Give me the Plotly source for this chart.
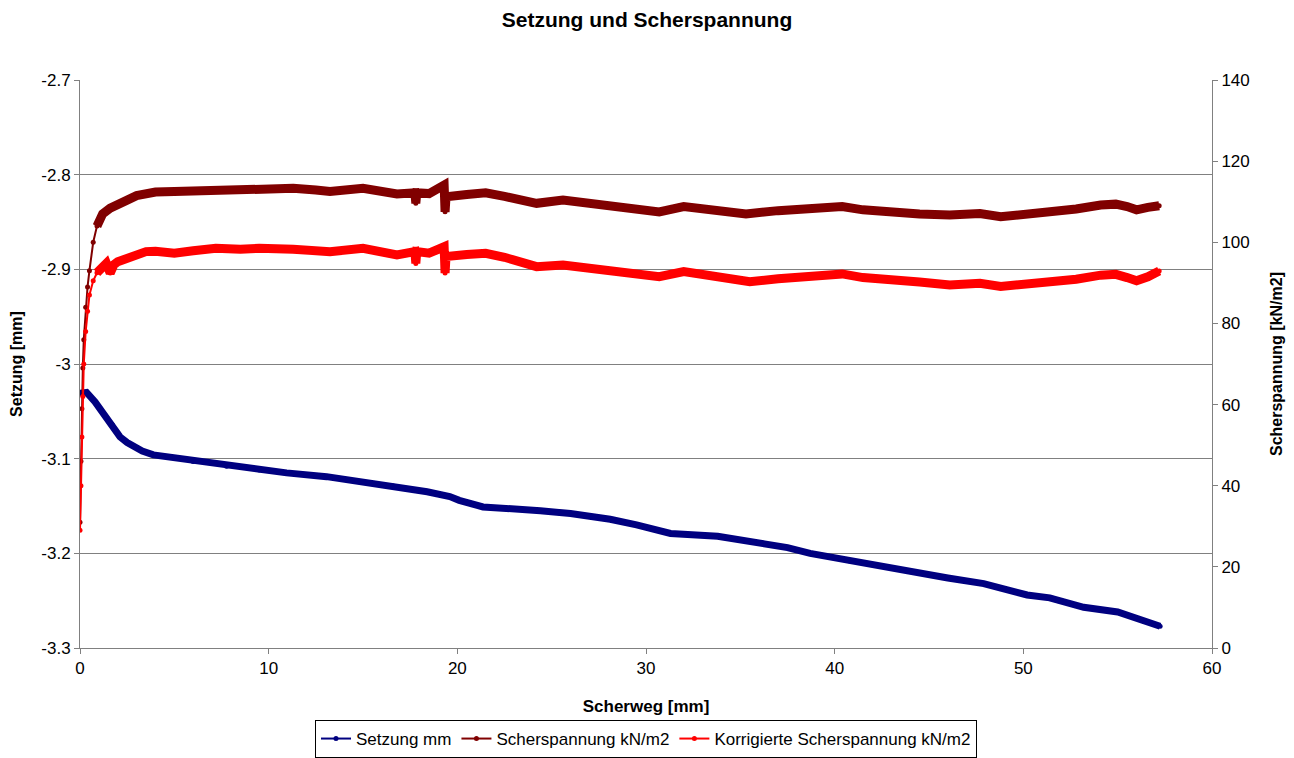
import plotly.graph_objects as go

# Shear test record: settlement (left axis) and shear stress (right axis) vs. shear path
weg_setzung = [0, 0.35, 0.8, 1.24, 1.7, 2.12, 2.5, 2.83, 3.3, 3.89, 5.0, 6.0, 7.77, 9.5,
               10.95, 13.07, 14.84, 16.6, 18.4, 19.6, 20.1, 21.36, 22.5, 24.4, 26.0, 28.1,
               29.5, 31.3, 33.8, 36.2, 37.5, 38.7, 40.8, 42.5, 44.3, 46.0, 47.9, 50.2,
               51.4, 53.2, 55.0, 55.8, 56.4, 57.25]
setzung = [-3.031, -3.030, -3.040, -3.052, -3.064, -3.077, -3.083, -3.087, -3.092, -3.096,
           -3.099, -3.103, -3.108, -3.112, -3.115, -3.119, -3.124, -3.129, -3.135, -3.140,
           -3.144, -3.151, -3.152, -3.155, -3.158, -3.164, -3.170, -3.179, -3.182, -3.189,
           -3.194, -3.200, -3.208, -3.214, -3.220, -3.226, -3.232, -3.244, -3.247, -3.257,
           -3.262, -3.267, -3.272, -3.277]

weg_scher = [0, 0.05, 0.1, 0.15, 0.2, 0.3, 0.4, 0.5, 0.7, 0.9, 1.2, 1.6, 2.0, 2.5, 3.0,
             3.5, 4.0, 5.0, 6.0, 7.2, 8.5, 10.0, 11.3, 12.5, 13.25, 15.0, 16.0, 16.8,
             17.75, 17.8, 17.85, 18.5, 19.3, 19.35, 19.4, 20.5, 21.5, 22.5, 24.2, 25.6,
             27.0, 28.3, 29.5, 30.7, 32.0, 33.5, 35.3, 37.0, 39.0, 40.4, 41.5, 42.6, 44.5,
             46.1, 47.7, 48.8, 50.0, 51.4, 52.8, 54.1, 54.9, 55.5, 56.0, 56.6, 57.2]
scherspannung = [31, 46, 59, 69, 76, 84, 89, 93, 100, 104, 107, 108.4, 109.5, 110.4, 111.5,
                 112.1, 112.4, 112.5, 112.6, 113.1, 113.0, 113.3, 113.3, 112.9, 112.5, 113.3,
                 112.6, 111.9, 112.2, 109.6, 112.2, 112.0, 114.1, 107.5, 111.2, 111.8, 112.2,
                 111.3, 109.6, 110.4, 109.5, 108.8, 108.3, 107.5, 108.8, 107.8, 107.0, 107.8,
                 108.4, 108.8, 108.0, 107.5, 107.0, 106.7, 107.1, 106.3, 106.8, 107.5, 108.2,
                 109.2, 109.4, 108.8, 108.0, 108.6, 109.0]

weg_korr = [0, 0.05, 0.1, 0.15, 0.2, 0.3, 0.4, 0.5, 0.7, 0.9, 1.2, 1.4, 1.6, 1.8, 2.0, 2.5,
            3.0, 3.5, 4.0, 5.0, 6.0, 7.2, 8.5, 9.5, 11.3, 12.5, 13.25, 15.0, 16.0, 16.8,
            17.75, 17.8, 17.85, 18.5, 19.3, 19.35, 19.4, 20.5, 21.5, 22.5, 24.2, 25.6, 27.0,
            28.3, 29.5, 30.7, 32.0, 33.5, 35.5, 37.0, 39.0, 40.4, 41.5, 42.6, 44.5, 46.1,
            47.7, 48.8, 50.0, 51.4, 52.8, 54.1, 54.9, 55.5, 56.0, 56.6, 57.2]
korr_scherspannung = [29, 40, 52, 62, 70, 78, 83, 87, 90.5, 92.5, 94.3, 94.8, 92.4, 94.5,
                      95.2, 96.2, 97.0, 97.7, 97.8, 97.3, 97.9, 98.5, 98.3, 98.5, 98.3, 97.9,
                      97.7, 98.5, 97.7, 96.9, 97.7, 94.8, 97.7, 97.3, 98.9, 92.4, 96.5, 97.0,
                      97.3, 96.3, 94.0, 94.4, 93.6, 92.8, 92.3, 91.5, 92.8, 91.6, 90.3, 91.0,
                      91.7, 92.2, 91.3, 90.7, 90.2, 89.5, 89.9, 89.1, 89.5, 89.9, 90.9, 91.9,
                      92.1, 91.3, 90.5, 91.5, 92.9]

x_ticks = [0, 10, 20, 30, 40, 50, 60]
y_left_ticks = [-2.7, -2.8, -2.9, -3.0, -3.1, -3.2, -3.3]
y_left_labels = ["-2.7", "-2.8", "-2.9", "-3", "-3.1", "-3.2", "-3.3"]
y_right_ticks = [0, 20, 40, 60, 80, 100, 120, 140]

NAVY = "#000080"
MAROON = "#800000"
RED = "#FF0000"
GRID = "#808080"
FONT = "Liberation Sans, Arial, sans-serif"

fig = go.Figure()

series = [
    ("Setzung mm", weg_setzung, setzung, NAVY, "y", 0.0, 7),
    ("Scherspannung kN/m2", weg_scher, scherspannung, MAROON, "y2", 0.8, 9),
    ("Korrigierte Scherspannung kN/m2", weg_korr, korr_scherspannung, RED, "y2", 0.8, 9),
]

for name, xs, ys, color, axis, x_band, band_width in series:
    # individual readings joined by a thin line (also the legend symbol)
    fig.add_trace(go.Scatter(
        x=xs, y=ys, name=name, yaxis=axis, mode="lines+markers",
        line=dict(color=color, width=2),
        marker=dict(color=color, size=5, symbol="circle"),
    ))
    # dense scatter of the readings forms a broad band once the curve levels off
    bx = [x for x in xs if x >= x_band]
    by = [y for x, y in zip(xs, ys) if x >= x_band]
    fig.add_trace(go.Scatter(
        x=bx, y=by, yaxis=axis, mode="lines", showlegend=False, hoverinfo="skip",
        line=dict(color=color, width=band_width),
    ))

fig.update_layout(
    width=1294, height=758,
    paper_bgcolor="white", plot_bgcolor="white",
    margin=dict(l=80, r=82, t=80, b=110),
    font=dict(family=FONT, size=17, color="#000000"),
    title=dict(text="<b>Setzung und Scherspannung</b>", x=0.5, xanchor="center",
               y=1 - 20 / 758, yanchor="middle", font=dict(size=21, family=FONT)),
    showlegend=True,
    legend=dict(orientation="h", x=0.5, xanchor="center",
                yref="container", y=1 - 739 / 758, yanchor="middle",
                bordercolor="#000000", borderwidth=1, bgcolor="white",
                font=dict(size=17, family=FONT), itemwidth=30, tracegroupgap=0),
    xaxis=dict(range=[0, 60], tickvals=x_ticks, ticks="outside", ticklen=5,
               tickcolor=GRID, showline=True, linecolor=GRID, linewidth=1,
               showgrid=False, zeroline=False, automargin=False,
               title=dict(text="<b>Scherweg [mm]</b>", font=dict(size=17), standoff=22)),
    yaxis=dict(range=[-3.3, -2.7], tickvals=y_left_ticks, ticktext=y_left_labels,
               ticks="outside", ticklen=5, tickcolor=GRID, automargin=False,
               showline=True, linecolor=GRID, linewidth=1,
               showgrid=True, gridcolor=GRID, gridwidth=1, zeroline=False,
               title=dict(text="<b>Setzung [mm]</b>", font=dict(size=16), standoff=14)),
    yaxis2=dict(range=[0, 140], tickvals=y_right_ticks, overlaying="y", side="right",
                ticks="outside", ticklen=5, tickcolor=GRID, automargin=False,
                showline=True, linecolor=GRID, linewidth=1,
                showgrid=False, zeroline=False,
                title=dict(text="<b>Scherspannung [kN/m2]</b>", font=dict(size=16),
                           standoff=22)),
)

fig.write_html("out.html")
